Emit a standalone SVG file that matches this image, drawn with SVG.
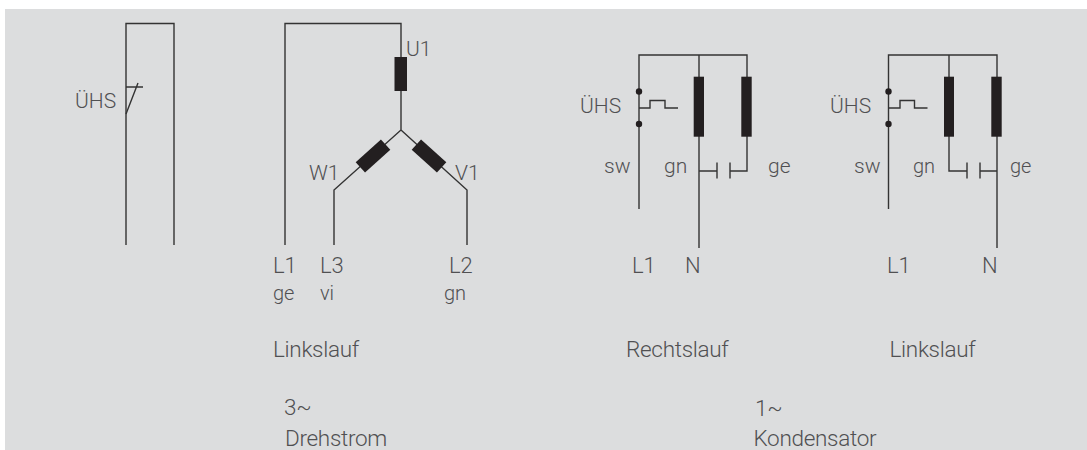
<svg xmlns="http://www.w3.org/2000/svg" width="1087" height="450" viewBox="0 0 1087 450">
<style>
.w{fill:none;stroke:#333;stroke-width:1.4}
.b{fill:#231f20}
text{font-family:"Roboto","Liberation Sans",sans-serif;font-weight:300;font-size:21px;fill:#505052}
.s{font-size:20px}
.c{font-size:22.500px;letter-spacing:-.3px}
.l{font-size:22px}
</style>
<rect x="5" y="9" width="1082" height="441" fill="#dcddde"/>
<g id="connectors">
<path class="w" d="M126 245V23.500H174V245"/>
<path class="w" d="M126 87H143M138 83L126 114"/>
<path class="w" d="M285 245V23.500H401V130L334 190V245M401 130L467 190V245"/>
<path class="w" d="M639 209V55H747V171H730M730 162.500V178.500M717 162.500V178.500M717 171H699M699 55V248"/>
<path class="w" d="M639 108H650V100.500H665V108H678"/>
<path class="w" d="M888.500 209V55H997V248M949 55V171H967M967 162.500V178.500M980 162.500V178.500M980 171H997"/>
<path class="w" d="M888.500 108H900V100.500H914.500V108H927.500"/>
</g>
<g id="switch-3ph"><text x="75" y="108">ÜHS</text></g>
<g id="coil-u1"><rect class="b" x="394.500" y="57" width="12.500" height="34"/><text x="406" y="56">U1</text></g>
<g id="coil-w1"><rect class="b" x="356" y="149" width="34" height="14" transform="rotate(-42 373 156)"/><text x="309" y="180">W1</text></g>
<g id="coil-v1"><rect class="b" x="412" y="149" width="34" height="14" transform="rotate(42 429 156)"/><text x="455" y="180">V1</text></g>
<g id="labels-3ph">
<text class="l" x="273" y="273">L1</text><text class="l" x="320" y="273">L3</text><text class="l" x="449" y="273">L2</text>
<text class="s" x="273" y="300">ge</text><text class="s" x="320" y="300">vi</text><text class="s" x="444" y="300">gn</text>
<text class="c" x="273" y="357">Linkslauf</text>
</g>
<g id="motor-rechtslauf">
<rect class="b" x="693.700" y="76.700" width="10.300" height="60"/>
<rect class="b" x="741.300" y="76.700" width="10.400" height="60"/>
<circle class="b" cx="639" cy="91.500" r="3.200"/><circle class="b" cx="639" cy="124" r="3.200"/>
<text x="580" y="113">ÜHS</text><text x="604" y="173">sw</text><text x="664" y="173">gn</text><text x="768" y="173">ge</text>
<text class="l" x="632" y="273">L1</text><text class="l" x="685" y="273">N</text>
<text class="c" x="626" y="357">Rechtslauf</text>
</g>
<g id="motor-linkslauf">
<rect class="b" x="944" y="76.700" width="10" height="60"/>
<rect class="b" x="991.300" y="76.700" width="10.400" height="60"/>
<circle class="b" cx="888.500" cy="91.500" r="3.200"/><circle class="b" cx="888.500" cy="124" r="3.200"/>
<text x="830" y="113">ÜHS</text><text x="854" y="173">sw</text><text class="s" x="913" y="173">gn</text><text class="s" x="1010" y="173">ge</text>
<text class="l" x="887" y="273">L1</text><text class="l" x="982" y="273">N</text>
<text class="c" x="889.500" y="357">Linkslauf</text>
</g>
<g id="captions">
<text class="c" x="284" y="415">3~</text><text class="c" x="285" y="445.500">Drehstrom</text>
<text class="c" x="755" y="416">1~</text><text class="c" x="753.500" y="446">Kondensator</text>
</g>
</svg>
